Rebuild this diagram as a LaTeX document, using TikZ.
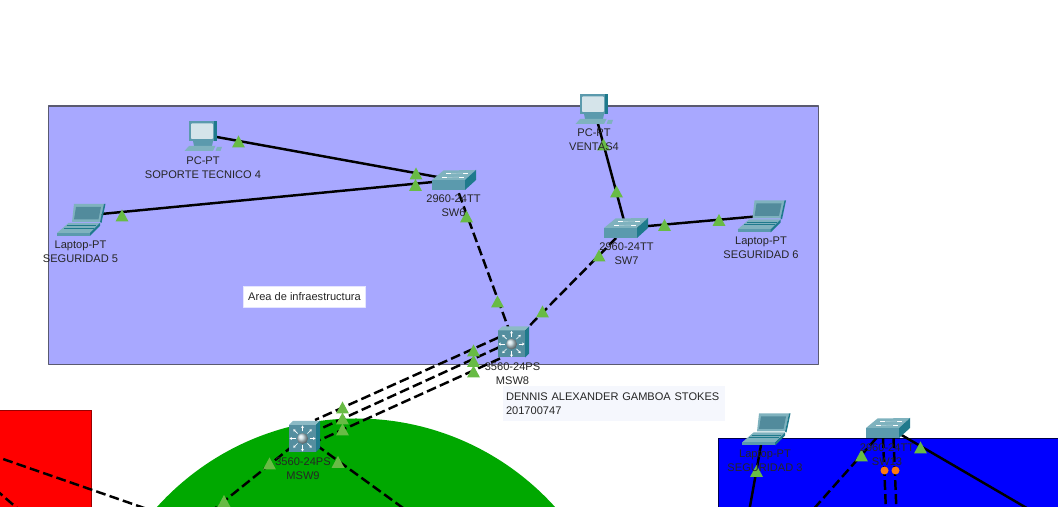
\documentclass[tikz,border=0pt]{standalone}
\usepackage{fontspec}
\usetikzlibrary{arrows.meta}
\setmainfont{Liberation Sans}
\definecolor{arealav}{HTML}{A8A8FF}
\definecolor{areaedge}{HTML}{5A5A70}
\definecolor{iconfront}{HTML}{5B9AAD}
\definecolor{icontop}{HTML}{7FB2BE}
\definecolor{iconside}{HTML}{1F7A8C}
\definecolor{iconscreen}{HTML}{D5E4EA}
\definecolor{linkgreen}{HTML}{68BB45}
\definecolor{linkorange}{HTML}{FF7A10}
\definecolor{notefill}{HTML}{F5F7FD}
\tikzset{
  region/.style={draw=areaedge,line width=0.6pt},
  cable/.style={line width=1.4pt,black},
  dashcable/.style={cable,dash pattern=on 5.6pt off 2.4pt},
  devlabel/.style={font=\fontsize{6.3}{7.94}\selectfont,align=center,text=black!85,inner sep=0pt},
  notelabel/.style={font=\fontsize{6.3}{7.94}\selectfont,text=black!85,inner ysep=1pt},
  linkup/.pic={\fill[linkgreen] (-0.13,-0.12) -- (0.13,-0.12) -- (0,0.12) -- cycle;},
  linkdown/.pic={\fill[linkorange] (0,0) circle[radius=0.08];},
  switchicon/.pic={
    \fill[iconfront] (-0.44,0) rectangle (0.22,-0.20);
    \fill[icontop] (-0.44,0) -- (-0.21,0.19) -- (0.44,0.20) -- (0.22,0) -- cycle;
    \fill[iconside] (0.22,0) -- (0.44,0.20) -- (0.44,0) -- (0.22,-0.20) -- cycle;
    \draw[white,line width=0.5pt] (-0.16,0.13) -- (-0.06,0.13) (0.18,0.14) -- (0.28,0.14);
    \draw[white,line width=0.5pt] (-0.24,0.05) -- (-0.14,0.05) (0.10,0.06) -- (0.20,0.06);
    \draw[icontop!60!white,line width=0.25pt] (-0.06,0.13) -- (0.18,0.14) (-0.14,0.05) -- (0.10,0.06);
  },
  mswicon/.pic={
    \fill[iconfront!92!black] (-0.31,0.23) rectangle (0.23,-0.31);
    \fill[icontop!90!white] (-0.31,0.23) -- (-0.23,0.31) -- (0.31,0.31) -- (0.23,0.23) -- cycle;
    \fill[iconside] (0.23,0.23) -- (0.31,0.31) -- (0.31,-0.23) -- (0.23,-0.31) -- cycle;
    \foreach \ang in {0,45,...,315}
      \draw[white,line width=0.4pt,-{Stealth[length=1.4pt,width=1.7pt]}] (-0.04,-0.04) ++(\ang:0.14) -- ++(\ang:0.12);
    \shade[ball color=iconfront!35!white] (-0.04,-0.04) circle[radius=0.11];
  },
  pcicon/.pic={
    \fill[iconfront] (-0.20,-0.10) -- (0.20,-0.10) -- (0.18,-0.20) -- (-0.18,-0.20) -- cycle;
    \fill[iconside] (0.20,0.30) -- (0.28,0.30) -- (0.28,-0.10) -- (0.20,-0.10) -- cycle;
    \fill[iconfront] (-0.29,0.29) rectangle (0.22,-0.10);
    \fill[iconscreen,rounded corners=0.5pt] (-0.24,0.25) rectangle (0.20,-0.06);
    \fill[icontop] (-0.37,-0.30) -- (-0.28,-0.20) -- (0.25,-0.20) -- (0.20,-0.30) -- cycle;
    \fill[icontop] (0.25,-0.30) -- (0.28,-0.22) -- (0.38,-0.22) -- (0.35,-0.30) -- cycle;
  },
  laptopicon/.pic={
    \fill[icontop] (-0.17,-0.05) -- (-0.13,0.31) -- (0.47,0.31) -- (0.39,-0.05) -- cycle;
    \fill[iconside] (0.47,0.31) -- (0.50,0.31) -- (0.42,-0.07) -- (0.39,-0.05) -- cycle;
    \fill[iconfront!90!black] (-0.13,0) -- (-0.09,0.25) -- (0.41,0.25) -- (0.36,0) -- cycle;
    \fill[icontop] (-0.47,-0.27) -- (-0.24,-0.07) -- (0.39,-0.07) -- (0.19,-0.27) -- cycle;
    \fill[iconfront] (-0.47,-0.27) rectangle (0.19,-0.33);
    \fill[iconside] (0.19,-0.27) -- (0.39,-0.07) -- (0.39,-0.13) -- (0.19,-0.33) -- cycle;
    \draw[iconside,line width=0.3pt] (-0.34,-0.17) -- (0.27,-0.17) (-0.28,-0.12) -- (0.31,-0.12);
  },
}
\begin{document}
\begin{tikzpicture}[line cap=butt,line join=round]
  \useasboundingbox (0,0) rectangle (21.16,10.14);
  \clip (0,0) rectangle (21.16,10.14);
  % coloured areas
  \filldraw[region,fill=arealav] (0.97,2.85) rectangle (16.37,8.02);
  \filldraw[region,draw=red!60!black,fill=red] (-0.5,-0.5) rectangle (1.83,1.93);
  \filldraw[region,draw=blue!30!black,fill=blue] (14.37,-0.5) rectangle (21.6,1.37);
  \fill[green!66!black] (7.12,-3.59) circle[radius=5.36];
  % devices
  \coordinate (pc4) at (4.06,7.45);
  \coordinate (lap5) at (1.61,5.82);
  \coordinate (sw6) at (9.08,6.54);
  \coordinate (pcv4) at (11.88,7.96);
  \coordinate (sw7) at (12.52,5.58);
  \coordinate (lap6) at (15.22,5.82);
  \coordinate (msw8) at (10.27,3.30);
  \coordinate (msw9) at (6.09,1.41);
  \coordinate (lap3) at (15.22,1.24);
  \coordinate (sw13) at (17.76,1.58);
  % free ends of the cables
  \coordinate (msw8a) at (9.97,3.39);
  \coordinate (msw8b) at (9.97,3.19);
  \coordinate (msw8c) at (10.00,2.97);
  \coordinate (msw9a) at (6.30,1.74);
  \coordinate (msw9b) at (6.40,1.56);
  \coordinate (msw9c) at (6.40,1.34);
  \coordinate (cutsw) at (4.15,-0.15);
  \coordinate (cutse) at (8.24,-0.15);
  \coordinate (redin) at (-0.20,1.05);
  \coordinate (redout) at (3.00,-0.06);
  \coordinate (redlowin) at (-0.10,0.36);
  \coordinate (redlowout) at (0.43,-0.10);
  \coordinate (sw13a) at (17.53,1.38);
  \coordinate (sw13b) at (17.66,1.38);
  \coordinate (sw13c) at (17.87,1.38);
  \coordinate (sw13d) at (18.03,1.44);
  \coordinate (cut13a) at (16.22,-0.10);
  \coordinate (cut13b) at (17.72,-0.10);
  \coordinate (cut13c) at (17.93,-0.10);
  \coordinate (cut13d) at (20.67,-0.10);
  \coordinate (cutlap3) at (14.98,-0.10);
  % cables
  \draw[cable] (pc4) -- (sw6);
  \draw[cable] (lap5) -- (sw6);
  \draw[cable] (pcv4) -- (sw7);
  \draw[cable] (lap6) -- (sw7);
  \draw[dashcable] (sw6) -- (msw8);
  \draw[dashcable] (sw7) -- (msw8);
  \draw[dashcable] (msw8a) -- (msw9a);
  \draw[dashcable] (msw8b) -- (msw9b);
  \draw[dashcable] (msw8c) -- (msw9c);
  \draw[dashcable] (msw9) -- (cutsw);
  \draw[dashcable] (msw9) -- (cutse);
  \draw[dashcable] (redin) -- (redout);
  \draw[dashcable] (redlowin) -- (redlowout);
  \draw[cable] (lap3) -- (cutlap3);
  \draw[dashcable] (sw13a) -- (cut13a);
  \draw[dashcable] (sw13b) -- (cut13b);
  \draw[dashcable] (sw13c) -- (cut13c);
  \draw[cable] (sw13d) -- (cut13d);
  % link lights
  \pic at (4.77,7.31) {linkup};
  \pic at (2.44,5.83) {linkup};
  \pic at (8.32,6.67) {linkup};
  \pic at (8.31,6.44) {linkup};
  \pic at (9.33,5.81) {linkup};
  \pic at (12.07,7.25) {linkup};
  \pic at (12.33,6.31) {linkup};
  \pic at (13.29,5.64) {linkup};
  \pic at (14.38,5.74) {linkup};
  \pic at (11.98,5.03) {linkup};
  \pic at (9.95,4.11) {linkup};
  \pic at (10.85,3.91) {linkup};
  \pic at (9.47,3.13) {linkup};
  \pic at (9.47,2.92) {linkup};
  \pic at (9.47,2.71) {linkup};
  \pic at (6.85,1.99) {linkup};
  \pic at (6.85,1.77) {linkup};
  \pic at (6.85,1.55) {linkup};
  \pic at (5.39,0.87) {linkup};
  \pic at (6.76,0.90) {linkup};
  \pic at (4.48,0.12) {linkup};
  \pic at (15.13,0.72) {linkup};
  \pic at (17.23,1.03) {linkup};
  \pic at (18.41,1.19) {linkup};
  \pic at (17.69,0.73) {linkdown};
  \pic at (17.91,0.73) {linkdown};
  % icons
  \pic at (4.06,7.42) {pcicon};
  \pic at (1.61,5.75) {laptopicon};
  \pic at (sw6) {switchicon};
  \pic at (pcv4) {pcicon};
  \pic at (sw7) {switchicon};
  \pic at (lap6) {laptopicon};
  \pic at (msw8) {mswicon};
  \pic at (msw9) {mswicon};
  \pic at (15.31,1.56) {laptopicon};
  \pic at (sw13) {switchicon};
  % labels
  \node[devlabel] (lblpc4) at (4.06,6.78) {PC-PT\\SOPORTE TECNICO 4};
  \node[devlabel] (lbllap5) at (1.61,5.10) {Laptop-PT\\SEGURIDAD 5};
  \node[devlabel] (lblsw6) at (9.07,6.02) {2960-24TT\\SW6};
  \node[devlabel] (lblpcv4) at (11.88,7.34) {PC-PT\\VENTAS4};
  \node[devlabel] (lblsw7) at (12.53,5.06) {2960-24TT\\SW7};
  \node[devlabel] (lbllap6) at (15.22,5.18) {Laptop-PT\\SEGURIDAD 6};
  \node[devlabel] (lblmsw8) at (10.25,2.66) {3560-24PS\\MSW8};
  \node[devlabel] (lblmsw9) at (6.06,0.76) {3560-24PS\\MSW9};
  \node[devlabel] (lbllap3) at (15.30,0.92) {Laptop-PT\\SEGURIDAD 3};
  \node[devlabel] (lblsw13) at (17.74,1.05) {2960-24TT\\SW13};
  \node[notelabel,fill=white,draw=white!90!blue,line width=0.3pt,minimum width=2.44cm,minimum height=0.42cm,inner xsep=0pt] (areanote) at (6.09,4.21) {Area de infraestructura};
  \node[notelabel,fill=notefill,align=left,text width=4.32cm,inner xsep=0.06cm,minimum height=0.69cm] (namenote) at (12.28,2.07) {DENNIS ALEXANDER GAMBOA STOKES\\201700747};
\end{tikzpicture}
\end{document}
